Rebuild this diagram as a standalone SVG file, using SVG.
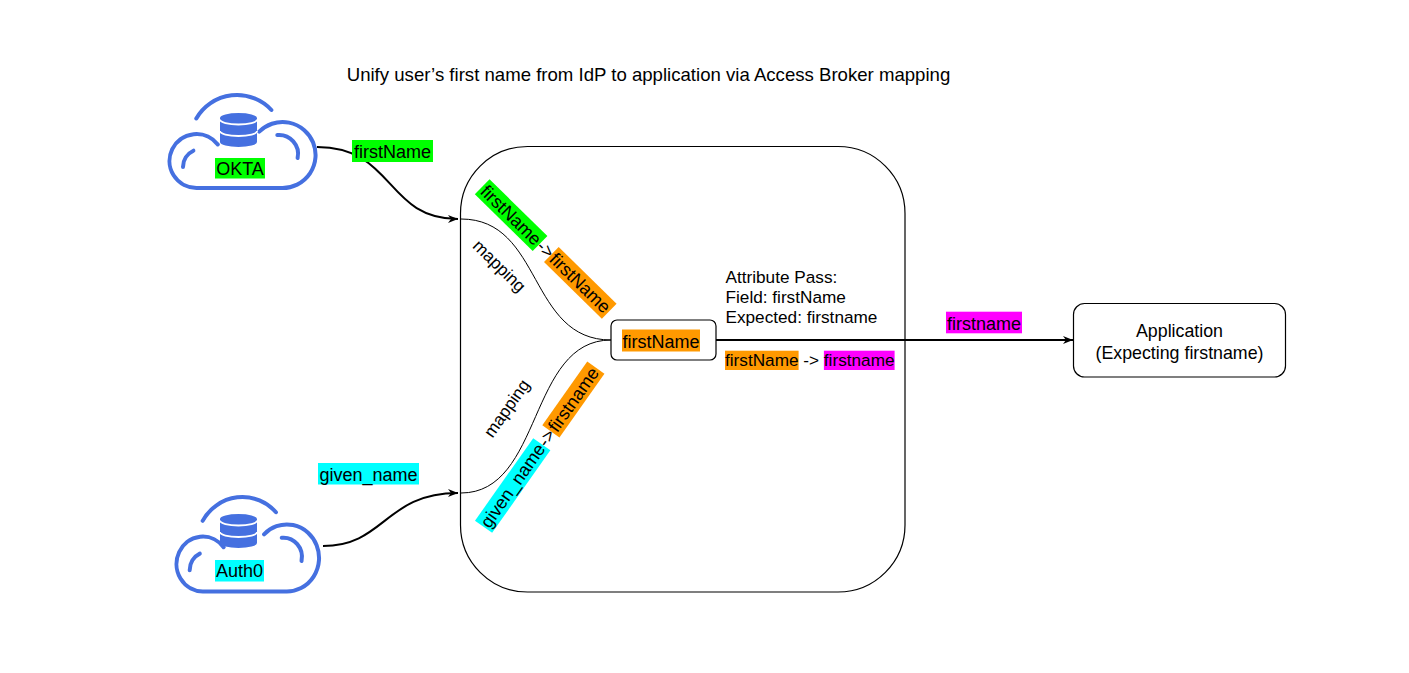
<svg xmlns="http://www.w3.org/2000/svg" width="1409" height="673" viewBox="0 0 1409 673">
<defs>
<style>
text{font-family:"Liberation Sans",Arial,Helvetica,sans-serif;fill:#000;font-size:17.2px}
.c{text-anchor:middle}
.L{font-size:18px}
.box{fill:#fff;stroke:#000;stroke-width:1.2}
.cl{fill:none;stroke:#4570E0;stroke-width:4;stroke-linecap:round}
.db{fill:#4570E0}
.sep{fill:none;stroke:#fff;stroke-width:1.8}
.edge{fill:none;stroke:#000;stroke-width:2}
.thin{fill:none;stroke:#000;stroke-width:1}
.g{fill:#00FF00}.o{fill:#FF9900}.cy{fill:#00FFFF}.mg{fill:#FF00FF}
</style>
<marker id="arr" viewBox="0 0 10 8" refX="10" refY="4" markerWidth="10" markerHeight="8" markerUnits="userSpaceOnUse" orient="auto">
<path d="M0,0 L10,4 L0,8 L3,4 Z" fill="#000"/>
</marker>
<g id="cloud">
<path class="cl" vector-effect="non-scaling-stroke" d="M259.2,131.7 A33,33 0 1 1 282.5,188 L196.5,188 A27,27 0 1 1 217.8,144.4"/>
<path class="cl" vector-effect="non-scaling-stroke" d="M196.3,118.5 A47,47 0 0 1 271.4,110"/>
<path class="cl" vector-effect="non-scaling-stroke" d="M183,167 A18,18 0 0 1 193.4,150.7"/>
<path class="cl" vector-effect="non-scaling-stroke" d="M277.3,135.1 A19,19 0 0 1 297.6,158"/>
</g>
<g id="db">
<ellipse class="db" cx="238.5" cy="118" rx="18.5" ry="5"/>
<rect class="db" x="220" y="118" width="37" height="24"/>
<ellipse class="db" cx="238.5" cy="142" rx="18.5" ry="5"/>
<path class="sep" d="M220,119.5 A18.5,5 0 0 0 257,119.5"/>
<path class="sep" d="M220,131 A18.5,5 0 0 0 257,131"/>
</g>
</defs>
<rect width="1409" height="673" fill="#fff"/>

<g id="title">
<text class="c" x="648.5" y="80.5" style="font-size:18.6px">Unify user’s first name from IdP to application via Access Broker mapping</text>
</g>

<g id="broker">
<rect class="box" x="460.5" y="146.5" width="444.5" height="445.5" rx="67" ry="67"/>
</g>

<g id="okta">
<use href="#cloud"/>
<use href="#db"/>
<rect class="g" x="215" y="158" width="50" height="20.5"/>
<text class="c L" x="240" y="175">OKTA</text>
</g>

<g id="auth0">
<use href="#cloud" transform="translate(176.5,497) scale(0.976,1.016) translate(-169.5,-95)"/>
<use href="#db" transform="translate(0,401)"/>
<rect class="cy" x="215" y="560" width="49" height="21.5"/>
<text class="c L" x="239.5" y="576.5">Auth0</text>
</g>

<g id="connectors">
<path class="edge" d="M317,147 C395,147 385,219 458,219" marker-end="url(#arr)"/>
<path class="edge" d="M323,546 C385,546 385,493 458,493" marker-end="url(#arr)"/>
<path class="thin" d="M461,219 C543,219 528,340 611,340"/>
<path class="thin" d="M461,493 C543,493 528,340 611,340"/>
<path class="edge" d="M716,340 L1073,340" marker-end="url(#arr)"/>
</g>

<g id="edge-labels">
<rect class="g" x="352" y="140" width="81" height="22"/>
<text class="c L" x="392.5" y="158.3">firstName</text>
<rect class="cy" x="318" y="463" width="101" height="21.5"/>
<text class="c L" x="368.5" y="480.5">given_name</text>
<rect class="mg" x="946" y="311.7" width="76" height="21.6"/>
<text class="c L" x="984" y="329.7">firstname</text>
<g id="map-okta-label" transform="translate(545.7,249) rotate(44.4)">
<rect class="g" x="-88.9" y="-10.5" width="81" height="21"/>
<rect class="o" x="7.9" y="-10.5" width="81" height="21"/>
<text class="c L" x="-48.4" y="6.3">firstName</text>
<text class="c L" x="0" y="6.3">-&gt;</text>
<text class="c L" x="48.4" y="6.3">firstName</text>
</g>
<g id="map-auth0-label" transform="translate(539.7,447.2) rotate(-54.8)">
<rect class="cy" x="-97.4" y="-10.5" width="101" height="21"/>
<rect class="o" x="19.4" y="-10.5" width="78" height="21"/>
<text class="c L" x="-46.9" y="6.3">given_name</text>
<text class="c L" x="11.5" y="6.3">-&gt;</text>
<text class="c L" x="58.4" y="6.3">firstname</text>
</g>
<text class="c" transform="translate(497.5,268) rotate(44.4)" x="0" y="3">mapping</text>
<text class="c" transform="translate(509,410) rotate(-54.8)" x="0" y="3">mapping</text>
</g>

<g id="mapped">
<rect class="box" x="611" y="320" width="105" height="40" rx="6" ry="6"/>
<rect class="o" x="622" y="329.5" width="78" height="22"/>
<text class="c L" x="661" y="347.5">firstName</text>
</g>

<g id="attribute-pass">
<text x="725.5" y="282.5">Attribute Pass:</text>
<text x="725.5" y="302.5">Field: firstName</text>
<text x="725.5" y="322.5">Expected: firstname</text>
<rect class="o" x="725" y="350.7" width="73.6" height="19.3"/>
<rect class="mg" x="823.9" y="350.7" width="70.7" height="19.3"/>
<text x="725" y="366.3">firstName -&gt; firstname</text>
</g>

<g id="app">
<rect class="box" x="1073.5" y="303.5" width="212" height="73.5" rx="11" ry="11"/>
<text class="c" x="1179.5" y="336.5" style="font-size:17.8px">Application</text>
<text class="c" x="1179.5" y="358.5" style="font-size:17.8px">(Expecting firstname)</text>
</g>
</svg>
